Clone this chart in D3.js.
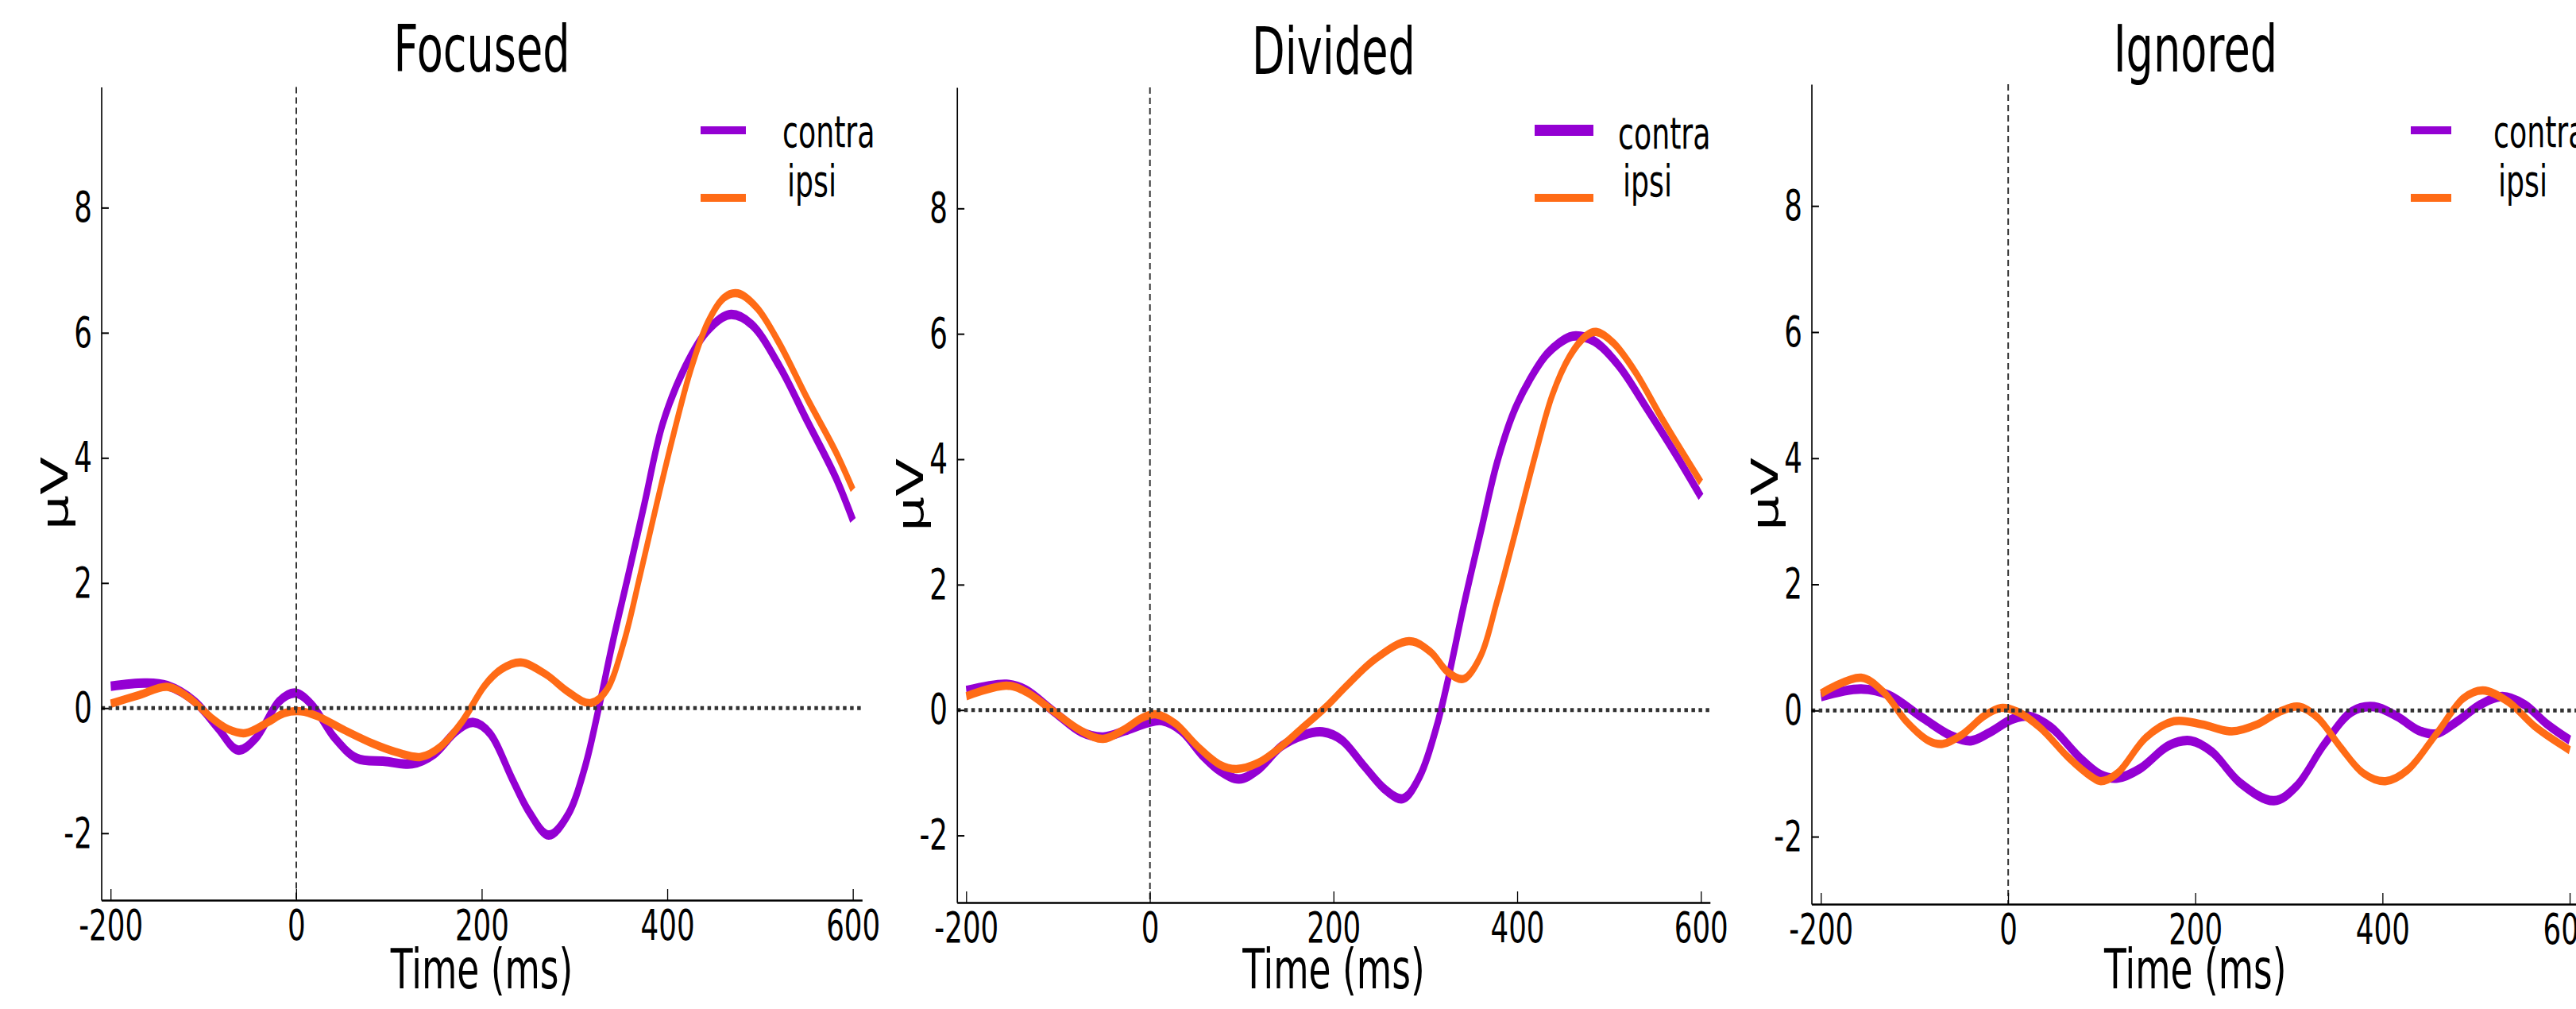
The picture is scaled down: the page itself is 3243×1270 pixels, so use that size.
<!DOCTYPE html>
<html>
<head>
<meta charset="utf-8">
<script src="https://cdn.jsdelivr.net/npm/d3@7"></script>
<style>
  body { margin: 0; background: #fff; }
  text { font-family: "DejaVu Sans", sans-serif; fill: #000; }
</style>
</head>
<body>
<div id="chart"></div>
<script>
// chart values
const panelTitles = ["Focused", "Divided", "Ignored"];
const seriesNames = ["contra", "ipsi"];
const xTicks = [-200, 0, 200, 400, 600];
const yTicks = [-2, 0, 2, 4, 6, 8];

// [time ms, amplitude µV]
const focusedContra = [[-200,0.35],[-163,0.40],[-139,0.36],[-109,0.10],[-85,-0.31],[-63,-0.67],[-43,-0.47],[-19,0.10],[-1,0.24],[17,0.05],[41,-0.47],[65,-0.80],[95,-0.85],[125,-0.89],[149,-0.73],[173,-0.36],[191,-0.23],[209,-0.41],[233,-1.14],[251,-1.66],[272,-2.03],[293,-1.70],[311,-0.95],[326,0.0],[341,1.05],[359,2.2],[375,3.25],[395,4.55],[419,5.45],[443,6.03],[467,6.29],[491,6.13],[521,5.46],[551,4.58],[581,3.70],[600,3.0]];
const focusedIpsi = [[-200,0.07],[-169,0.21],[-139,0.34],[-115,0.16],[-91,-0.16],[-73,-0.34],[-55,-0.40],[-31,-0.23],[-13,-0.08],[5,-0.05],[23,-0.13],[53,-0.36],[83,-0.57],[107,-0.70],[134,-0.78],[155,-0.62],[179,-0.21],[203,0.36],[221,0.62],[242,0.73],[269,0.54],[293,0.26],[317,0.08],[335,0.30],[353,1.05],[371,2.15],[389,3.3],[407,4.4],[425,5.4],[443,6.15],[461,6.56],[476,6.63],[497,6.39],[521,5.82],[551,4.94],[581,4.11],[600,3.49]];
const dividedContra = [[-200,0.31],[-156,0.41],[-135,0.32],[-105,-0.02],[-75,-0.35],[-51,-0.43],[-27,-0.33],[-2,-0.20],[13,-0.17],[34,-0.33],[58,-0.74],[76,-0.97],[97,-1.10],[118,-0.95],[143,-0.58],[167,-0.40],[188,-0.35],[209,-0.48],[233,-0.89],[257,-1.28],[276,-1.41],[294,-1.05],[312,-0.27],[324,0.45],[342,1.69],[360,2.83],[378,3.95],[396,4.75],[414,5.28],[433,5.69],[457,5.95],[469,5.96],[487,5.85],[511,5.48],[541,4.81],[572,4.09],[600,3.40]];
const dividedIpsi = [[-200,0.22],[-156,0.39],[-135,0.29],[-105,-0.02],[-75,-0.33],[-51,-0.46],[-27,-0.30],[-8,-0.12],[7,-0.07],[28,-0.22],[52,-0.58],[76,-0.87],[94,-0.94],[118,-0.84],[143,-0.58],[167,-0.27],[191,0.04],[215,0.40],[245,0.81],[282,1.10],[306,0.92],[324,0.61],[342,0.50],[360,0.86],[378,1.74],[396,2.73],[420,4.09],[438,5.02],[457,5.64],[475,5.97],[486,6.03],[505,5.85],[529,5.38],[559,4.61],[600,3.63]];
const ignoredContra = [[-200,0.22],[-157,0.34],[-127,0.24],[-91,-0.12],[-61,-0.40],[-40,-0.48],[-20,-0.35],[4,-0.14],[22,-0.09],[46,-0.27],[76,-0.74],[99,-1.02],[117,-1.07],[141,-0.92],[171,-0.56],[195,-0.48],[218,-0.66],[248,-1.15],[284,-1.43],[308,-1.20],[338,-0.53],[367,-0.02],[391,0.06],[415,-0.09],[439,-0.32],[457,-0.37],[480,-0.17],[504,0.09],[528,0.22],[552,0.09],[576,-0.22],[600,-0.47]];
const ignoredIpsi = [[-200,0.27],[-157,0.52],[-133,0.29],[-109,-0.17],[-85,-0.48],[-70,-0.53],[-49,-0.38],[-26,-0.09],[-8,0.04],[10,-0.02],[34,-0.27],[64,-0.74],[88,-1.04],[99,-1.12],[117,-0.99],[147,-0.43],[177,-0.17],[207,-0.22],[239,-0.33],[266,-0.22],[290,-0.02],[311,0.06],[331,-0.12],[355,-0.58],[379,-0.99],[403,-1.12],[427,-0.94],[457,-0.38],[486,0.19],[507,0.32],[534,0.14],[564,-0.27],[600,-0.63]];

const panelSeries = [
    [focusedContra, focusedIpsi],
    [dividedContra, dividedIpsi],
    [ignoredContra, ignoredIpsi]
];

const colors = ["#9400d3", "#ff6b16"];
const lineWidths = [12, 10.5];

// the picture is squeezed horizontally, so everything is drawn in a
// group scaled by SX in x; x positions below are in screen pixels
const SX = 0.66;
const W = 3243, H = 1270;

const layout = [
    { left: 127.7, right: 1085.5, top: 109.4, bottom: 1133, titleY: 90, leg: [882, 939], legText: 985, legBase: [185, 247], legW: [10, 10] },
    { left: 1204.9, right: 2153, top: 110, bottom: 1136, titleY: 93, leg: [1932, 2006], legText: 2037, legBase: [187, 247], legW: [14, 10] },
    { left: 2280.7, right: 3247, top: 106, bottom: 1138, titleY: 90, leg: [3035, 3086], legText: 3139, legBase: [185, 247], legW: [10, 10] }
];
const legY = [164, 249];

const svg = d3.select("#chart").append("svg")
    .attr("width", W)
    .attr("height", H);

const root = svg.append("g")
    .attr("transform", `scale(${SX},1)`);

layout.forEach(function(p, i) {
    const g = root.append("g");

    const x = d3.scaleLinear()
        .domain([-210, 610])
        .range([p.left / SX, p.right / SX]);
    const y = d3.scaleLinear()
        .domain([-3.07, 9.93])
        .range([p.bottom, p.top]);

    const line = d3.line()
        .curve(d3.curveCatmullRom.alpha(0.5))
        .x(function(d) { return x(d[0]); })
        .y(function(d) { return y(d[1]); });

    // data lines
    panelSeries[i].forEach(function(s, k) {
        g.append("path")
            .datum(s)
            .attr("d", line)
            .attr("fill", "none")
            .attr("stroke", colors[k])
            .attr("stroke-width", lineWidths[k])
            .attr("stroke-linejoin", "round")
            .attr("stroke-linecap", "butt");
    });

    // zero line (dotted) and stimulus onset (dashed)
    g.append("line")
        .attr("x1", x.range()[0]).attr("x2", x.range()[1])
        .attr("y1", y(0)).attr("y2", y(0))
        .attr("stroke", "#333")
        .attr("stroke-width", 5)
        .attr("stroke-dasharray", "6.8,6.8");
    g.append("line")
        .attr("x1", x(0)).attr("x2", x(0))
        .attr("y1", y.range()[1]).attr("y2", y.range()[0])
        .attr("stroke", "#333")
        .attr("stroke-width", 3)
        .attr("stroke-dasharray", "8,5");

    // axes
    const xAxis = d3.axisBottom(x)
        .tickValues(xTicks)
        .tickFormat(function(d) { return String(d); })
        .tickSizeInner(-14)
        .tickSizeOuter(0)
        .tickPadding(12);
    const yAxis = d3.axisLeft(y)
        .tickValues(yTicks)
        .tickFormat(function(d) { return String(d); })
        .tickSizeInner(-14)
        .tickSizeOuter(0)
        .tickPadding(18);

    const gx = g.append("g")
        .attr("transform", `translate(0,${p.bottom})`)
        .call(xAxis);
    const gy = g.append("g")
        .attr("transform", `translate(${p.left / SX},0)`)
        .call(yAxis);

    [gx, gy].forEach(function(a) {
        a.attr("font-family", null).attr("font-size", null);
        a.select(".domain").attr("stroke", "#000").attr("stroke-width", 2.5);
        a.selectAll(".tick line").attr("stroke", "#000").attr("stroke-width", 2);
        a.selectAll(".tick text").style("font-size", "54px").attr("fill", "#000");
    });

    // title and axis labels
    const cx = (p.left + p.right) / 2 / SX;
    g.append("text")
        .attr("x", cx).attr("y", p.titleY)
        .attr("text-anchor", "middle")
        .style("font-size", "82px")
        .text(panelTitles[i]);

    g.append("text")
        .attr("x", cx).attr("y", 1244)
        .attr("text-anchor", "middle")
        .style("font-size", "69px")
        .text("Time (ms)");

    g.append("text")
        .attr("transform", `translate(${(p.left - 43) / SX},${(p.top + p.bottom) / 2}) rotate(-90)`)
        .attr("text-anchor", "middle")
        .style("font-size", "70px")
        .text("μV");

    // legend
    seriesNames.forEach(function(name, k) {
        g.append("line")
            .attr("x1", p.leg[0] / SX).attr("x2", p.leg[1] / SX)
            .attr("y1", legY[k]).attr("y2", legY[k])
            .attr("stroke", colors[k])
            .attr("stroke-width", p.legW[k]);
        g.append("text")
            .attr("x", (p.legText + (k === 1 ? 6 : 0)) / SX)
            .attr("y", p.legBase[k])
            .style("font-size", "55px")
            .text(name);
    });
});
</script>
</body>
</html>
